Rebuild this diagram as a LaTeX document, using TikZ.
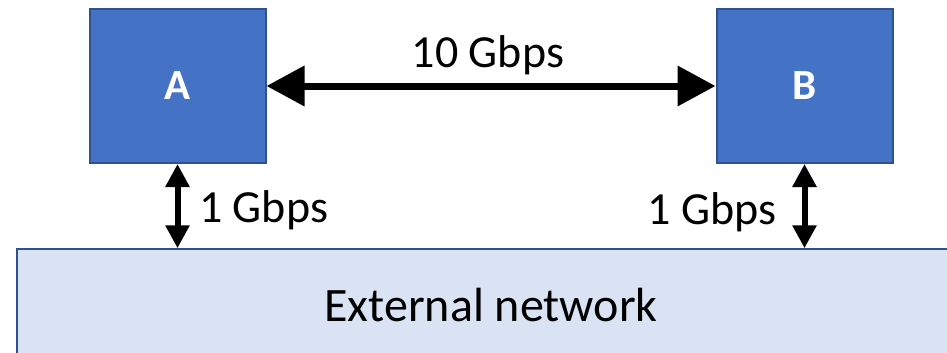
\documentclass[tikz,border=0pt]{standalone}
\usepackage{fontspec}
\setmainfont{Carlito}
\usetikzlibrary{arrows.meta}
\definecolor{hostblue}{HTML}{4472C4}
\definecolor{edgeblue}{HTML}{2F528F}
\definecolor{netfill}{HTML}{DAE3F3}
\begin{document}
\begin{tikzpicture}[x=1pt,y=-1pt,
  host/.style={draw=edgeblue, fill=hostblue, line width=2pt,
    minimum width=176pt, minimum height=154pt, inner sep=0pt,
    text=white, font=\fontsize{43}{48}\selectfont\bfseries},
  net/.style={draw=edgeblue, fill=netfill, line width=1.5pt,
    minimum width=948pt, minimum height=112pt, inner sep=0pt,
    font=\fontsize{48}{52}\selectfont},
  bigarrow/.style={line width=7pt,
    {Triangle[length=38pt,width=39pt]}-{Triangle[length=38pt,width=39pt]}},
  smallarrow/.style={line width=6pt,
    {Triangle[length=23pt,width=23pt]}-{Triangle[length=23pt,width=23pt]}},
  ratelabel/.style={font=\fontsize{46}{50}\selectfont, inner sep=0pt, anchor=base}
]
\useasboundingbox (0,0) rectangle (947,353);
\clip (0,0) rectangle (947,353);

% hosts and the shared network
\node[host] (A) at (177.5,86) {A};
\node[host] (B) at (804.5,86) {B};
\node[net] (N) at (491,305) {External network};

% links
\draw[bigarrow] (A.east) -- (B.west);
\draw[smallarrow] (A.south) -- (A.south |- N.north);
\draw[smallarrow] (B.south) -- (B.south |- N.north);

% link rates
\node[ratelabel] (r10) at (488,67) {10 Gbps};
\node[ratelabel, anchor=base west] (r1a) at (199,222) {1 Gbps};
\node[ratelabel, anchor=base east] (r1b) at (777,224) {1 Gbps};
\end{tikzpicture}
\end{document}
